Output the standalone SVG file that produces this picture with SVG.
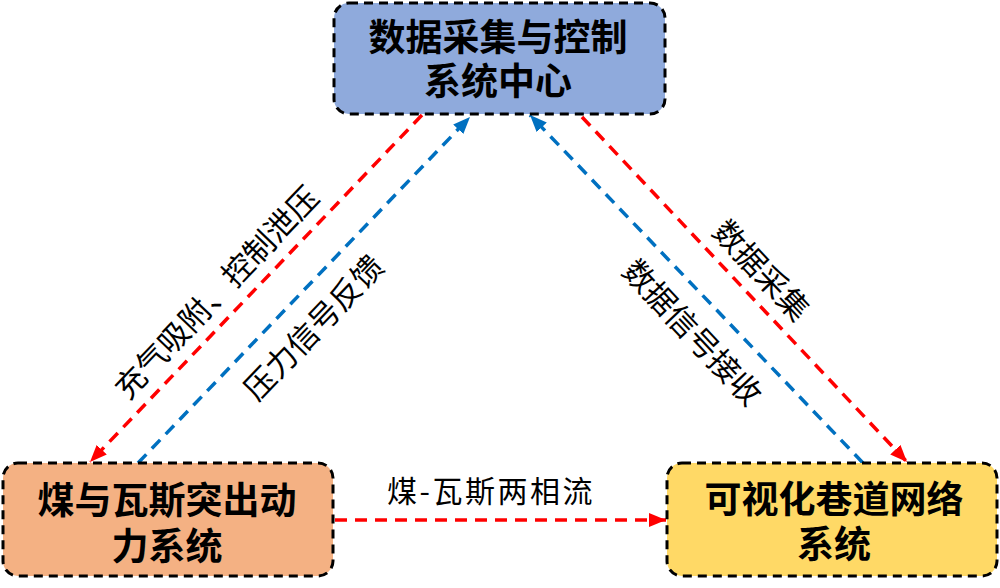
<svg xmlns="http://www.w3.org/2000/svg" width="1000" height="588" viewBox="0 0 1000 588">
<style>
.box{stroke:#000;stroke-width:3;stroke-dasharray:9 6}
.t{font-family:"Noto Sans CJK SC","Noto Sans",sans-serif;font-size:37px;font-weight:bold;text-anchor:middle;fill:#000}
.l{font-family:"Noto Sans CJK SC","Noto Sans",sans-serif;font-size:31px;text-anchor:middle;fill:#000}
.red{stroke:#ff0000;stroke-width:3.5;stroke-dasharray:12 8;fill:none}
.blue{stroke:#0070c0;stroke-width:3.5;stroke-dasharray:12 8;fill:none}
</style>
<defs>
<marker id="ar" markerUnits="userSpaceOnUse" markerWidth="18" markerHeight="14" viewBox="0 0 18 14" refX="17" refY="7" orient="auto"><path d="M0,0 L17,7 L0,14 Z" fill="#ff0000"/></marker>
<marker id="ab" markerUnits="userSpaceOnUse" markerWidth="18" markerHeight="14" viewBox="0 0 18 14" refX="17" refY="7" orient="auto"><path d="M0,0 L17,7 L0,14 Z" fill="#0070c0"/></marker>
</defs>
<rect width="1000" height="588" fill="#fff"/>
<g id="connectors">
<line class="red" x1="422" y1="115" x2="90" y2="462" marker-end="url(#ar)"/>
<line class="blue" x1="138" y1="463" x2="470" y2="117" marker-end="url(#ab)"/>
<line class="blue" x1="863" y1="463" x2="530" y2="115" marker-end="url(#ab)"/>
<line class="red" x1="582" y1="117" x2="907" y2="462" marker-end="url(#ar)"/>
<line class="red" x1="335" y1="520" x2="666" y2="520" marker-end="url(#ar)"/>
<text class="l" transform="translate(216,292) rotate(-46.3)" y="12">充气吸附、控制泄压</text>
<text class="l" transform="translate(313,327) rotate(-46.3)" y="12">压力信号反馈</text>
<text class="l" transform="translate(762,270) rotate(46.7)" y="12">数据采集</text>
<text class="l" transform="translate(693,332) rotate(46.7)" y="12">数据信号接收</text>
<text class="l" x="491" y="502" style="font-size:30px;letter-spacing:2.5px">煤-瓦斯两相流</text>
</g>
<g id="center">
<rect class="box" x="334" y="3" width="331" height="111" rx="15" fill="#8faadc"/>
<text class="t"><tspan x="498" y="51">数据采集与控制</tspan><tspan x="498" y="95">系统中心</tspan></text>
</g>
<g id="coal">
<rect class="box" x="3" y="463" width="330" height="113" rx="15" fill="#f4b183"/>
<text class="t"><tspan x="167" y="514">煤与瓦斯突出动</tspan><tspan x="167" y="560">力系统</tspan></text>
</g>
<g id="network">
<rect class="box" x="667" y="463" width="330" height="113" rx="15" fill="#ffd966"/>
<text class="t"><tspan x="834" y="513">可视化巷道网络</tspan><tspan x="834" y="558">系统</tspan></text>
</g>
</svg>
